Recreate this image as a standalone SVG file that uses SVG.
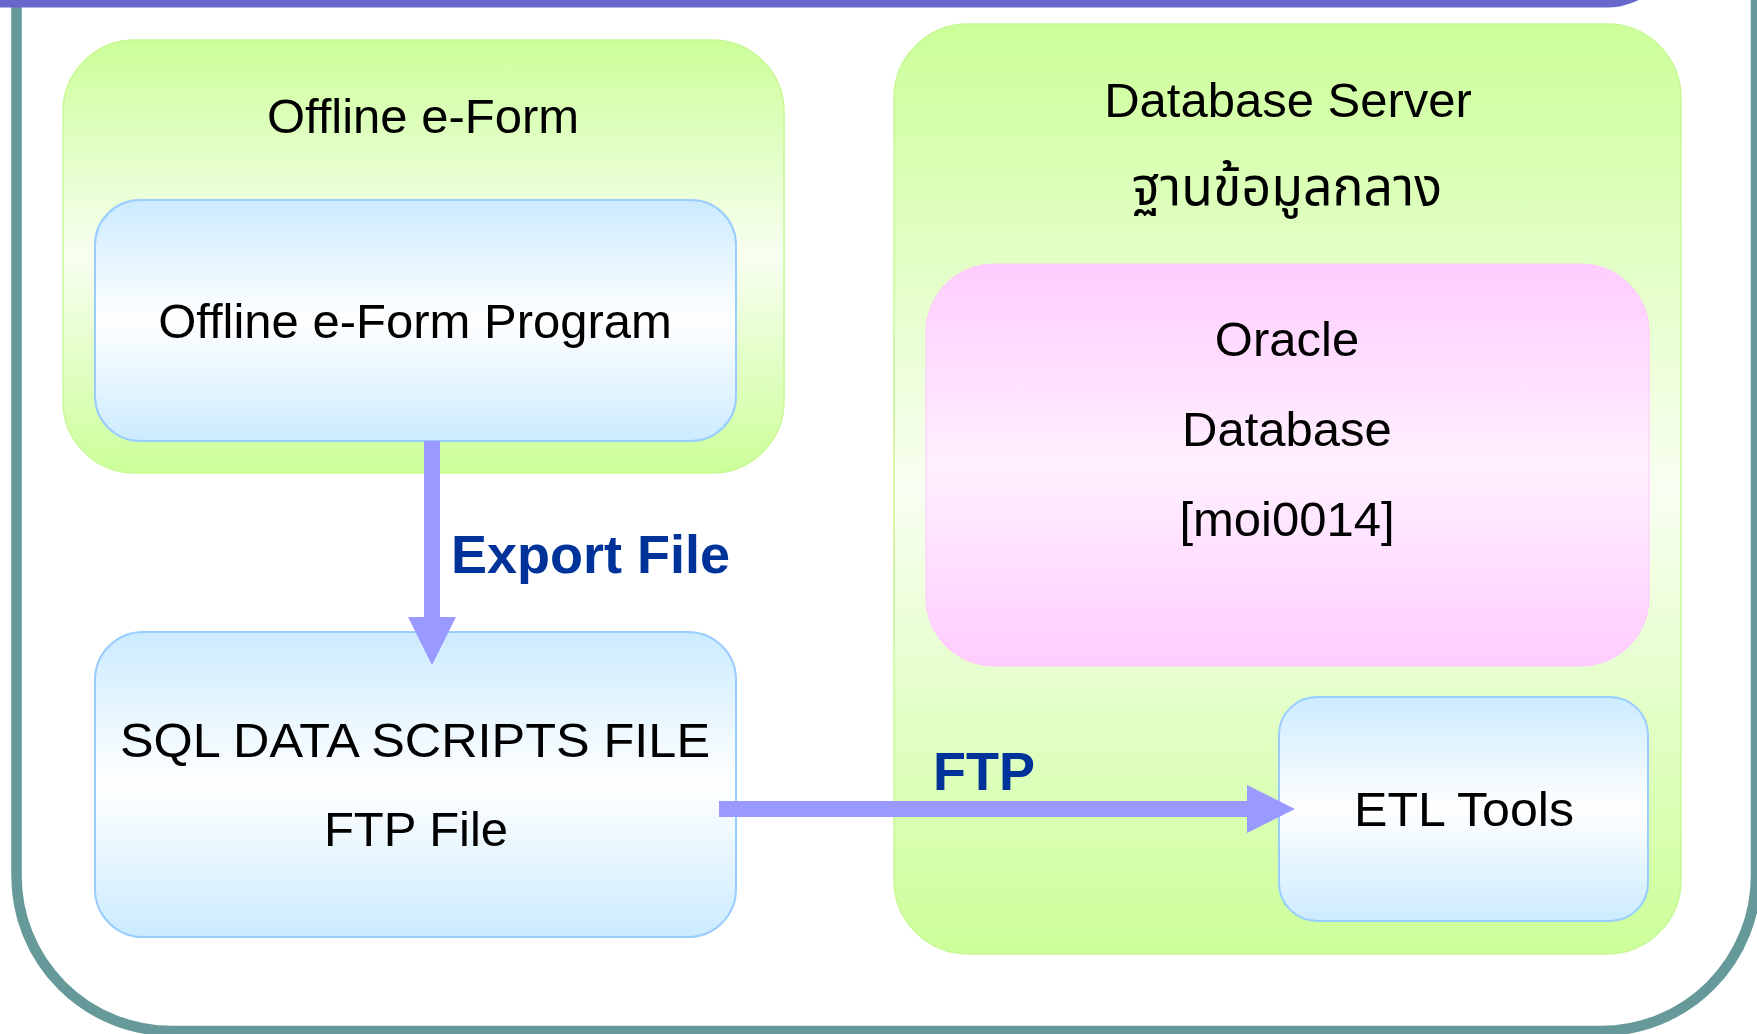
<svg xmlns="http://www.w3.org/2000/svg" width="1757" height="1034" viewBox="0 0 1757 1034">
<defs>
<linearGradient id="gGreen" x1="0" y1="0" x2="0" y2="1">
<stop offset="0" stop-color="#CCFF99"/>
<stop offset="0.5" stop-color="#F8FFF1"/>
<stop offset="1" stop-color="#CCFF99"/>
</linearGradient>
<linearGradient id="gBlue" x1="0" y1="0" x2="0" y2="1">
<stop offset="0" stop-color="#CCEBFF"/>
<stop offset="0.5" stop-color="#FFFFFF"/>
<stop offset="1" stop-color="#CCEBFF"/>
</linearGradient>
<linearGradient id="gPink" x1="0" y1="0" x2="0" y2="1">
<stop offset="0" stop-color="#FFCCFF"/>
<stop offset="0.5" stop-color="#FFF0FF"/>
<stop offset="1" stop-color="#FFCCFF"/>
</linearGradient>
<style>
.t{font-family:"Liberation Sans",Arial,sans-serif;font-size:49px;fill:#000;text-anchor:middle}
.th{font-family:"Noto Sans Thai","Noto Sans","DejaVu Sans",sans-serif;font-size:54px;fill:#000;text-anchor:middle}
.lbl{font-family:"Liberation Sans",Arial,sans-serif;font-size:54px;font-weight:bold;fill:#003399}
.green{fill:url(#gGreen);stroke:#C8F894;stroke-width:1.5}
.blue{fill:url(#gBlue);stroke:#99CCFF;stroke-width:2}
.pink{fill:url(#gPink);stroke:#FFC8FF;stroke-width:1}
.conn{fill:#9999FF;stroke:none}
</style>
</defs>
<rect width="1757" height="1034" fill="#FFFFFF"/>
<g id="frame">
<rect x="16.5" y="-300" width="1739.5" height="1331" rx="155" ry="155" fill="none" stroke="#669999" stroke-width="10.5"/>
<rect x="-100" y="-200" width="1778" height="207.5" rx="71" ry="71" fill="#6868CC"/>
</g>
<g id="offline-eform">
<rect class="green" x="63" y="40" width="721" height="433" rx="72" ry="72"/>
<text class="t" x="423" y="133">Offline e-Form</text>
</g>
<g id="offline-eform-program">
<rect class="blue" x="95" y="200" width="641" height="241" rx="45" ry="45"/>
<text class="t" x="415" y="338">Offline e-Form Program</text>
</g>
<g id="database-server">
<rect class="green" x="894" y="24" width="787" height="930" rx="74" ry="74"/>
<text class="t" x="1288" y="117">Database Server</text>
<text class="th" x="1287" y="205" textLength="310" lengthAdjust="spacingAndGlyphs">ฐานข้อมูลกลาง</text>
</g>
<g id="oracle-database">
<rect class="pink" x="926" y="264" width="723" height="402" rx="68" ry="68"/>
<text class="t" x="1287" y="356">Oracle</text>
<text class="t" x="1287" y="446">Database</text>
<text class="t" x="1287" y="536">[moi0014]</text>
</g>
<g id="sql-data-scripts">
<rect class="blue" x="95" y="632" width="641" height="305" rx="48" ry="48"/>
<text class="t" x="415" y="757" textLength="590" lengthAdjust="spacingAndGlyphs">SQL DATA SCRIPTS FILE</text>
<text class="t" x="416" y="846">FTP File</text>
</g>
<g id="etl-tools">
<rect class="blue" x="1279" y="697" width="369" height="224" rx="38" ry="38"/>
<text class="t" x="1464" y="826" textLength="220" lengthAdjust="spacingAndGlyphs">ETL Tools</text>
</g>
<g id="connectors">
<rect class="conn" x="424" y="441" width="16" height="177"/>
<polygon class="conn" points="408,617 456,617 432,665"/>
<text class="lbl" x="451" y="573">Export File</text>
<rect class="conn" x="719" y="801" width="529" height="16"/>
<polygon class="conn" points="1247,785 1247,833 1295,809"/>
<text class="lbl" x="933" y="790">FTP</text>
</g>
</svg>
